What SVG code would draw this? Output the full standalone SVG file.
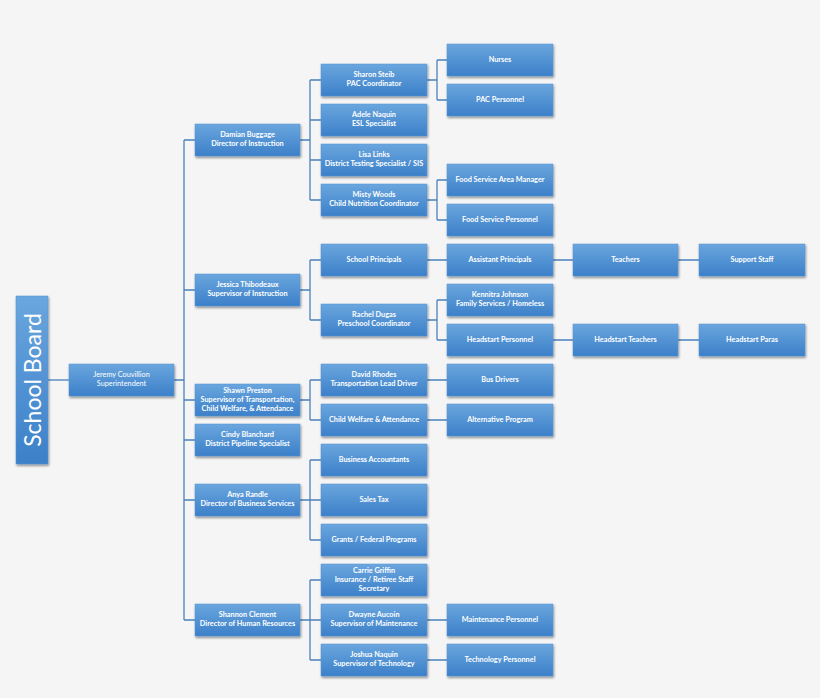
<svg xmlns="http://www.w3.org/2000/svg" width="820" height="698" viewBox="0 0 820 698">
<defs>
<linearGradient id="g" x1="0" y1="0" x2="0" y2="1">
<stop offset="0" stop-color="#6aa6de"/>
<stop offset="1" stop-color="#3c80c9"/>
</linearGradient>
<filter id="sh" x="-10%" y="-20%" width="120%" height="150%">
<feDropShadow dx="0.8" dy="1.6" stdDeviation="1" flood-color="#000" flood-opacity="0.45"/>
</filter>
<style>
.b{fill:url(#g);stroke:#5a95d2;stroke-width:0.5;filter:url(#sh)}
.t{font-family:Lato,"Open Sans","Liberation Sans",sans-serif;font-size:7.3px;font-weight:bold;fill:#fff;text-anchor:middle}
.n{font-weight:normal}
.c{fill:none;stroke:#4a80ba;stroke-width:1.3}
</style>
</defs>
<rect width="820" height="698" fill="#f5f5f5"/>
<g id="connectors">
<path class="c" d="M48 380H69"/>
<path class="c" d="M174 380H184M184 140V620M184 140H195M184 290H195M184 400H195M184 440H195M184 500H195M184 620H195"/>
<path class="c" d="M300 140H310M310 80V200M310 80H321M310 120H321M310 160H321M310 200H321"/>
<path class="c" d="M427 80H437M437 60V100M437 60H447M437 100H447"/>
<path class="c" d="M427 200H437M437 180V220M437 180H447M437 220H447"/>
<path class="c" d="M300 290H310M310 260V320M310 260H321M310 320H321"/>
<path class="c" d="M427 260H447M553 260H573M678 260H699"/>
<path class="c" d="M427 320H437M437 300V340M437 300H447M437 340H447"/>
<path class="c" d="M553 340H573M678 340H699"/>
<path class="c" d="M300 400H310M310 380V420M310 380H321M310 420H321"/>
<path class="c" d="M427 380H447M427 420H447"/>
<path class="c" d="M300 500H310M310 460V540M310 460H321M310 500H321M310 540H321"/>
<path class="c" d="M300 620H310M310 580V660M310 580H321M310 620H321M310 660H321"/>
<path class="c" d="M427 620H447M427 660H447"/>
</g>
<g id="school-board"><rect class="b" x="16" y="296" width="32" height="168"/><text class="t n" transform="translate(40.5 380) rotate(-90)" style="font-size:23px">School Board</text></g>
<g id="superintendent"><rect class="b" x="69" y="364" width="105" height="32"/><text class="t n"><tspan x="121.5" y="377">Jeremy Couvillion</tspan><tspan x="121.5" y="386">Superintendent</tspan></text></g>

<g id="damian"><rect class="b" x="195" y="124" width="105" height="32"/><text class="t"><tspan x="247.5" y="137">Damian Buggage</tspan><tspan x="247.5" y="146">Director of Instruction</tspan></text></g>
<g id="jessica"><rect class="b" x="195" y="274" width="105" height="32"/><text class="t"><tspan x="247.5" y="287">Jessica Thibodeaux</tspan><tspan x="247.5" y="296">Supervisor of Instruction</tspan></text></g>
<g id="shawn"><rect class="b" x="195" y="384" width="105" height="32"/><text class="t"><tspan x="247.5" y="392.5">Shawn Preston</tspan><tspan x="247.5" y="401.5">Supervisor of Transportation,</tspan><tspan x="247.5" y="410.5">Child Welfare, &amp; Attendance</tspan></text></g>
<g id="cindy"><rect class="b" x="195" y="424" width="105" height="32"/><text class="t"><tspan x="247.5" y="437">Cindy Blanchard</tspan><tspan x="247.5" y="446">District Pipeline Specialist</tspan></text></g>
<g id="anya"><rect class="b" x="195" y="484" width="105" height="32"/><text class="t"><tspan x="247.5" y="497">Anya Randle</tspan><tspan x="247.5" y="506">Director of Business Services</tspan></text></g>
<g id="shannon"><rect class="b" x="195" y="604" width="105" height="32"/><text class="t"><tspan x="247.5" y="617">Shannon Clement</tspan><tspan x="247.5" y="626">Director of Human Resources</tspan></text></g>

<g id="sharon"><rect class="b" x="321" y="64" width="106" height="32"/><text class="t"><tspan x="374" y="77">Sharon Steib</tspan><tspan x="374" y="86">PAC Coordinator</tspan></text></g>
<g id="adele"><rect class="b" x="321" y="104" width="106" height="32"/><text class="t"><tspan x="374" y="117">Adele Naquin</tspan><tspan x="374" y="126">ESL Specialist</tspan></text></g>
<g id="lisa"><rect class="b" x="321" y="144" width="106" height="32"/><text class="t"><tspan x="374" y="157">Lisa Links</tspan><tspan x="374" y="166">District Testing Specialist / SIS</tspan></text></g>
<g id="misty"><rect class="b" x="321" y="184" width="106" height="32"/><text class="t"><tspan x="374" y="197">Misty Woods</tspan><tspan x="374" y="206">Child Nutrition Coordinator</tspan></text></g>
<g id="school-principals"><rect class="b" x="321" y="244" width="106" height="32"/><text class="t" x="374" y="262">School Principals</text></g>
<g id="rachel"><rect class="b" x="321" y="304" width="106" height="32"/><text class="t"><tspan x="374" y="317">Rachel Dugas</tspan><tspan x="374" y="326">Preschool Coordinator</tspan></text></g>
<g id="david"><rect class="b" x="321" y="364" width="106" height="32"/><text class="t"><tspan x="374" y="377">David Rhodes</tspan><tspan x="374" y="386">Transportation Lead Driver</tspan></text></g>
<g id="child-welfare"><rect class="b" x="321" y="404" width="106" height="32"/><text class="t" x="374" y="422">Child Welfare &amp; Attendance</text></g>
<g id="business-accountants"><rect class="b" x="321" y="444" width="106" height="32"/><text class="t" x="374" y="462">Business Accountants</text></g>
<g id="sales-tax"><rect class="b" x="321" y="484" width="106" height="32"/><text class="t" x="374" y="502">Sales Tax</text></g>
<g id="grants"><rect class="b" x="321" y="524" width="106" height="32"/><text class="t" x="374" y="542">Grants / Federal Programs</text></g>
<g id="carrie"><rect class="b" x="321" y="564" width="106" height="32"/><text class="t"><tspan x="374" y="572.5">Carrie Griffin</tspan><tspan x="374" y="581.5">Insurance / Retiree Staff</tspan><tspan x="374" y="590.5">Secretary</tspan></text></g>
<g id="dwayne"><rect class="b" x="321" y="604" width="106" height="32"/><text class="t"><tspan x="374" y="617">Dwayne Aucoin</tspan><tspan x="374" y="626">Supervisor of Maintenance</tspan></text></g>
<g id="joshua"><rect class="b" x="321" y="644" width="106" height="32"/><text class="t"><tspan x="374" y="657">Joshua Naquin</tspan><tspan x="374" y="666">Supervisor of Technology</tspan></text></g>

<g id="nurses"><rect class="b" x="447" y="44" width="106" height="32"/><text class="t" x="500" y="62">Nurses</text></g>
<g id="pac-personnel"><rect class="b" x="447" y="84" width="106" height="32"/><text class="t" x="500" y="102">PAC Personnel</text></g>
<g id="food-area-manager"><rect class="b" x="447" y="164" width="106" height="32"/><text class="t" x="500" y="182">Food Service Area Manager</text></g>
<g id="food-personnel"><rect class="b" x="447" y="204" width="106" height="32"/><text class="t" x="500" y="222">Food Service Personnel</text></g>
<g id="assistant-principals"><rect class="b" x="447" y="244" width="106" height="32"/><text class="t" x="500" y="262">Assistant Principals</text></g>
<g id="kennitra"><rect class="b" x="447" y="284" width="106" height="32"/><text class="t"><tspan x="500" y="297">Kennitra Johnson</tspan><tspan x="500" y="306">Family Services / Homeless</tspan></text></g>
<g id="headstart-personnel"><rect class="b" x="447" y="324" width="106" height="32"/><text class="t" x="500" y="342">Headstart Personnel</text></g>
<g id="bus-drivers"><rect class="b" x="447" y="364" width="106" height="32"/><text class="t" x="500" y="382">Bus Drivers</text></g>
<g id="alternative-program"><rect class="b" x="447" y="404" width="106" height="32"/><text class="t" x="500" y="422">Alternative Program</text></g>
<g id="maintenance-personnel"><rect class="b" x="447" y="604" width="106" height="32"/><text class="t" x="500" y="622">Maintenance Personnel</text></g>
<g id="technology-personnel"><rect class="b" x="447" y="644" width="106" height="32"/><text class="t" x="500" y="662">Technology Personnel</text></g>

<g id="teachers"><rect class="b" x="573" y="244" width="105" height="32"/><text class="t" x="625.5" y="262">Teachers</text></g>
<g id="headstart-teachers"><rect class="b" x="573" y="324" width="105" height="32"/><text class="t" x="625.5" y="342">Headstart Teachers</text></g>
<g id="support-staff"><rect class="b" x="699" y="244" width="106" height="32"/><text class="t" x="752" y="262">Support Staff</text></g>
<g id="headstart-paras"><rect class="b" x="699" y="324" width="106" height="32"/><text class="t" x="752" y="342">Headstart Paras</text></g>
</svg>
